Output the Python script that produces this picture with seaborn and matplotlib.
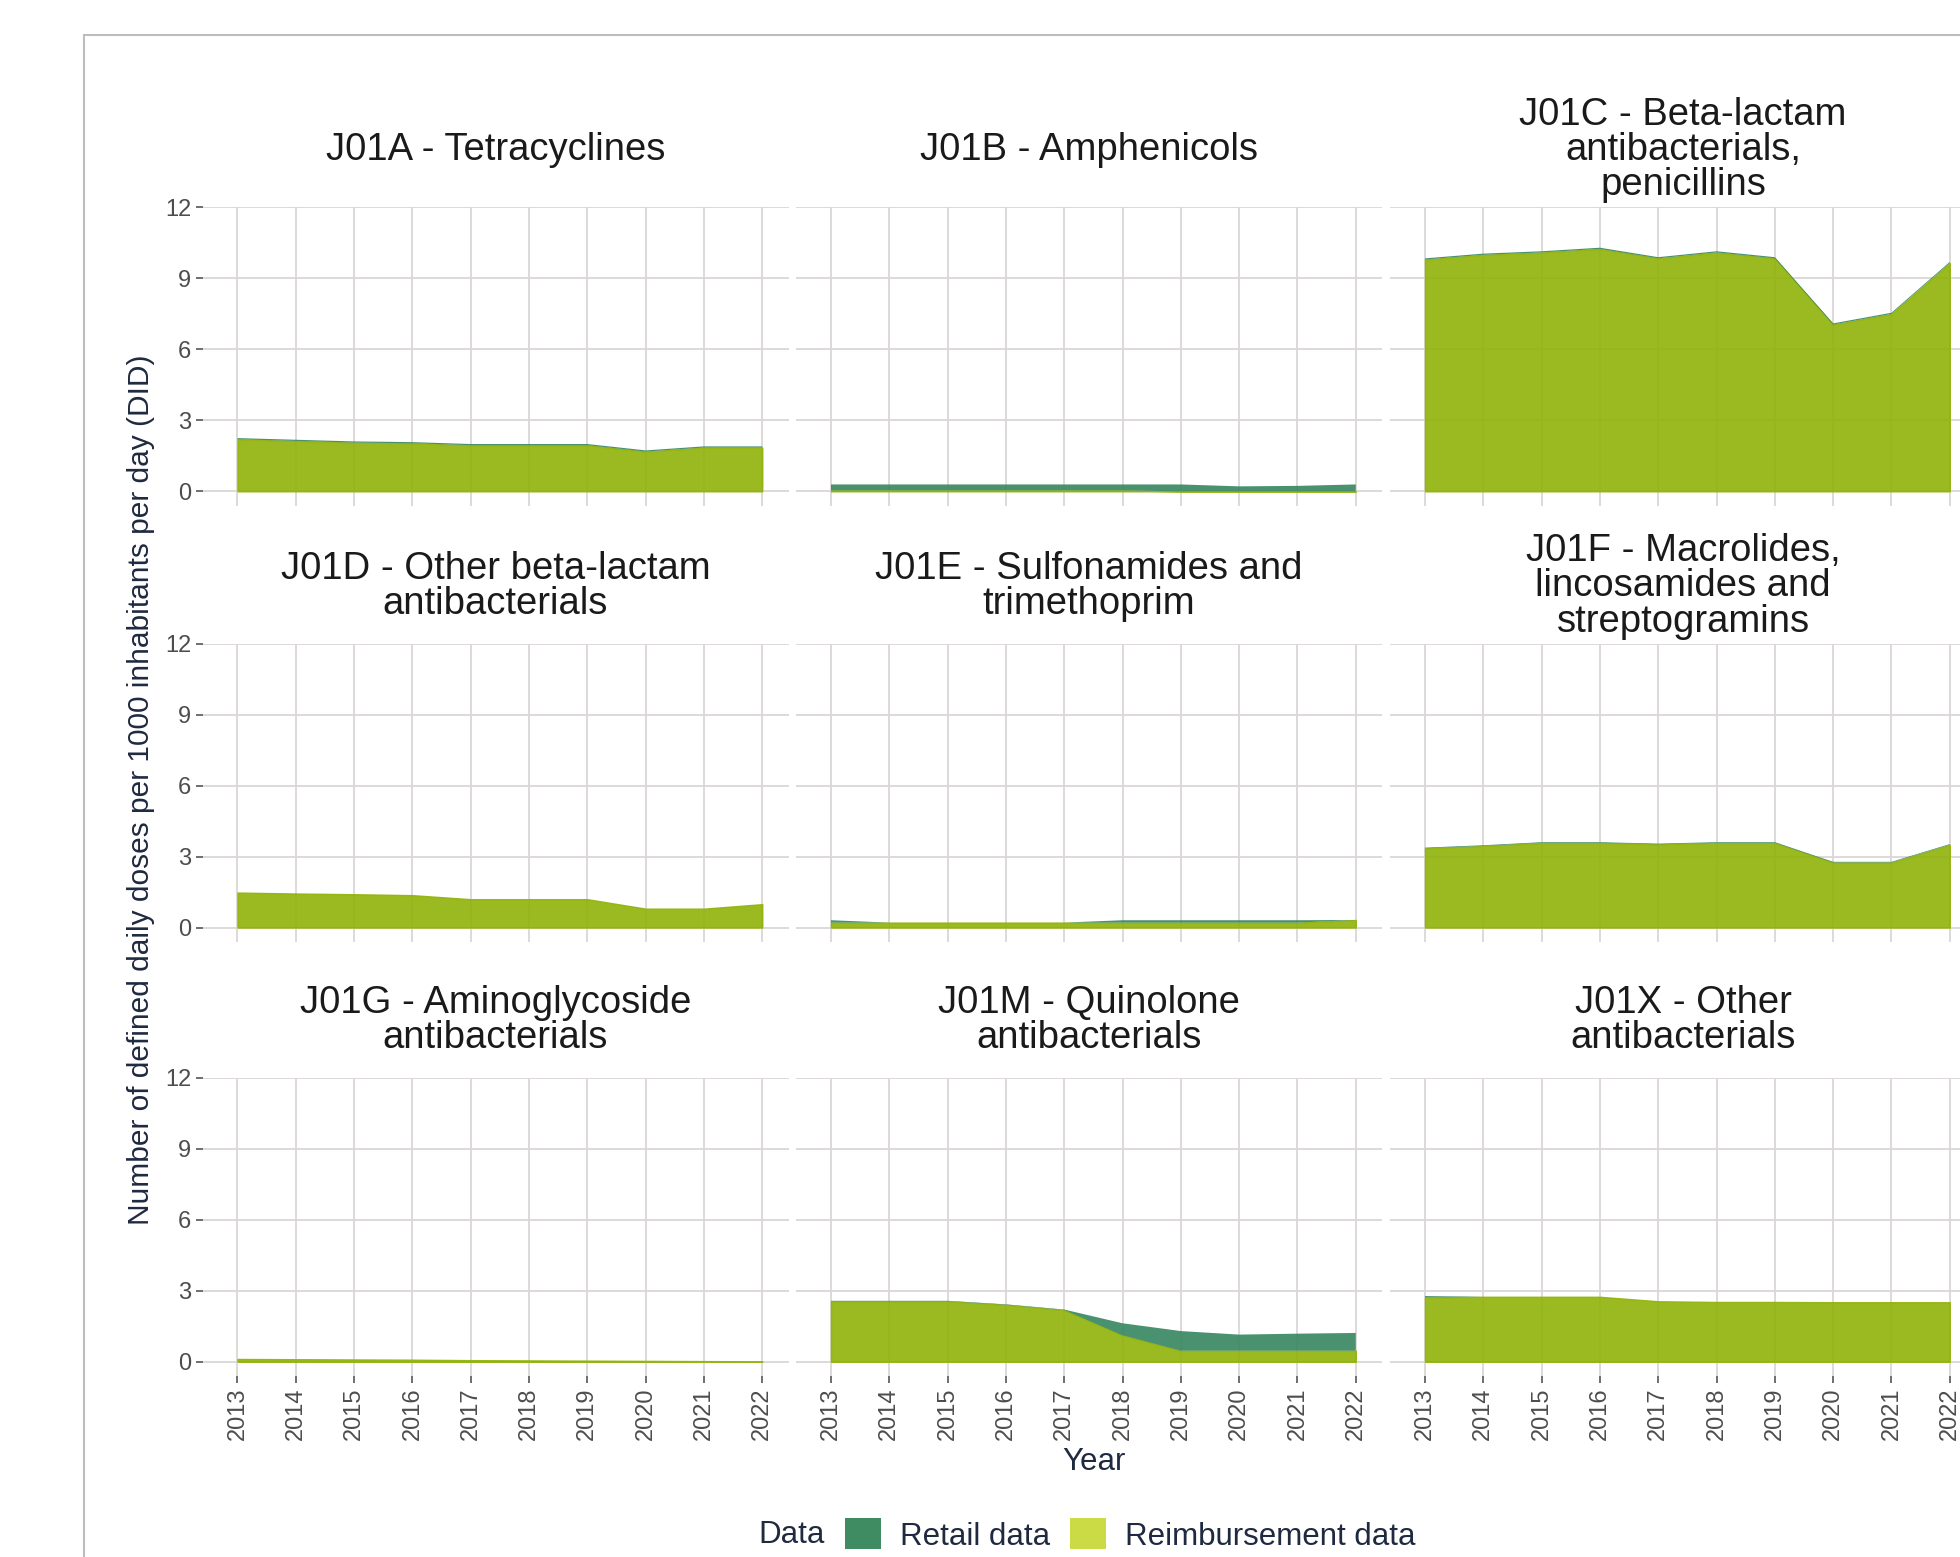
import matplotlib
matplotlib.use("Agg")
import matplotlib.pyplot as plt
from matplotlib.patches import Patch, Rectangle
import seaborn as sns
import pandas as pd

# ---- data (DID) ----
years = list(range(2013, 2023))

groups = [
    "J01A - Tetracyclines",
    "J01B - Amphenicols",
    "J01C - Beta-lactam\nantibacterials,\npenicillins",
    "J01D - Other beta-lactam\nantibacterials",
    "J01E - Sulfonamides and\ntrimethoprim",
    "J01F - Macrolides,\nlincosamides and\nstreptogramins",
    "J01G - Aminoglycoside\nantibacterials",
    "J01M - Quinolone\nantibacterials",
    "J01X - Other\nantibacterials",
]

j01a_reimb = [2.20, 2.13, 2.06, 2.03, 1.95, 1.95, 1.95, 1.68, 1.85, 1.85]
j01a_retail = [0.05, 0.05, 0.05, 0.05, 0.05, 0.05, 0.05, 0.05, 0.05, 0.05]
j01b_reimb = [0.04, 0.04, 0.04, 0.04, 0.04, 0.04, 0.0, 0.0, 0.0, 0.0]
j01b_retail = [0.25, 0.25, 0.25, 0.25, 0.25, 0.25, 0.29, 0.21, 0.23, 0.29]
j01c_reimb = [9.80, 10.00, 10.10, 10.25, 9.85, 10.10, 9.85, 7.05, 7.50, 9.65]
j01c_retail = [0.05, 0.05, 0.05, 0.05, 0.05, 0.05, 0.05, 0.05, 0.05, 0.05]
j01d_reimb = [1.48, 1.44, 1.41, 1.37, 1.20, 1.20, 1.20, 0.80, 0.80, 0.99]
j01d_retail = [0.0, 0.0, 0.0, 0.0, 0.0, 0.0, 0.0, 0.0, 0.0, 0.0]
j01e_reimb = [0.21, 0.21, 0.21, 0.21, 0.21, 0.21, 0.21, 0.21, 0.21, 0.32]
j01e_retail = [0.10, 0.0, 0.0, 0.0, 0.0, 0.10, 0.10, 0.10, 0.10, 0.0]
j01f_reimb = [3.35, 3.45, 3.58, 3.58, 3.52, 3.58, 3.58, 2.75, 2.75, 3.50]
j01f_retail = [0.03, 0.03, 0.03, 0.03, 0.03, 0.03, 0.03, 0.03, 0.03, 0.03]
j01g_reimb = [0.12, 0.11, 0.10, 0.09, 0.07, 0.06, 0.05, 0.04, 0.03, 0.02]
j01g_retail = [0.0, 0.0, 0.0, 0.0, 0.0, 0.0, 0.0, 0.0, 0.0, 0.0]
j01m_reimb = [2.56, 2.56, 2.56, 2.41, 2.19, 1.12, 0.47, 0.47, 0.47, 0.47]
j01m_retail = [0.02, 0.02, 0.02, 0.02, 0.02, 0.51, 0.83, 0.68, 0.72, 0.75]
j01x_reimb = [2.72, 2.75, 2.75, 2.75, 2.56, 2.53, 2.53, 2.52, 2.52, 2.52]
j01x_retail = [0.06, 0.0, 0.0, 0.0, 0.0, 0.0, 0.0, 0.0, 0.0, 0.0]

reimb_series = [j01a_reimb, j01b_reimb, j01c_reimb, j01d_reimb, j01e_reimb,
                j01f_reimb, j01g_reimb, j01m_reimb, j01x_reimb]
retail_series = [j01a_retail, j01b_retail, j01c_retail, j01d_retail, j01e_retail,
                 j01f_retail, j01g_retail, j01m_retail, j01x_retail]

rows = []
for grp, reimb, retail in zip(groups, reimb_series, retail_series):
    for yr, a, b in zip(years, reimb, retail):
        rows.append({"group": grp, "year": yr, "source": "Reimbursement data", "value": a})
        rows.append({"group": grp, "year": yr, "source": "Retail data", "value": b})
df = pd.DataFrame(rows)

# ---- style ----
REIMB_FILL = "#90B309"
RETAIL_FILL = "#36865F"
GRID = "#DCD7D7"
TICK_TXT = "#4D4D4D"
DARK = "#1F2A40"

sns.set_theme(style="white")
plt.rcParams["font.family"] = ["Liberation Sans", "DejaVu Sans"]

W, H = 1960, 1557


def stacked_area(data, color=None, **kws):
    ax = plt.gca()
    wide = data.pivot(index="year", columns="source", values="value").sort_index()
    x = wide.index.values
    base = wide["Reimbursement data"].values
    top = base + wide["Retail data"].values
    ax.fill_between(x, 0, base, facecolor=REIMB_FILL, edgecolor=REIMB_FILL,
                    lw=1.0, alpha=0.9, zorder=2)
    ax.fill_between(x, base, top, facecolor=RETAIL_FILL, edgecolor="none",
                    lw=0, alpha=0.9, zorder=2)


g = sns.FacetGrid(df, col="group", col_order=groups, col_wrap=3,
                  sharex=True, sharey=True, height=4, aspect=1.4)
g.map_dataframe(stacked_area)
g.set_titles("")
g.set_axis_labels("", "")

fig = g.figure
fig.set_size_inches(W / 100, H / 100)

col_left = [202.5, 796.0, 1390.0]
panel_w = 586.0
row_top = [207.5, 643.75, 1078.0]
panel_h = 298.0

for i, ax in enumerate(g.axes.flat):
    r, c = divmod(i, 3)
    ax.set_position([col_left[c] / W, 1 - (row_top[r] + panel_h) / H,
                     panel_w / W, panel_h / H])
    ax.set_xlim(2012.4, 2022.45)
    ax.set_ylim(-0.6, 12)
    ax.set_xticks(years)
    ax.set_yticks([0, 3, 6, 9, 12])
    ax.grid(True, color=GRID, lw=1.3)
    ax.set_axisbelow(True)
    for sp in ax.spines.values():
        sp.set_visible(False)
    # ticks only on the outer panels, like facet_wrap
    ax.tick_params(axis="both", length=5, width=1.2, color="#555555",
                   labelsize=17, labelcolor=TICK_TXT, pad=3,
                   bottom=(r == 2), left=(c == 0))
    for lab in ax.get_xticklabels():
        lab.set_rotation(90)
    ax.annotate(groups[i], xy=(0.5, 1), xycoords="axes fraction",
                xytext=(0, 57.5 * 0.72), textcoords="offset points",
                ha="center", va="center", fontsize=27.5, color="#1A1A1A",
                linespacing=0.98, annotation_clip=False)

fig.text(141 / W, 1 - 790 / H,
         "Number of defined daily doses per 1000 inhabitants per day (DID)",
         rotation=90, ha="center", va="center", fontsize=21.5, color=DARK)
fig.text(1094 / W, 1 - 1462 / H, "Year", ha="center", va="center",
         fontsize=22.5, color=DARK)

# legend at the bottom
fig.text(825 / W, 1 - 1535 / H, "Data", ha="right", va="center",
         fontsize=22.5, color=DARK)
handles = [Patch(facecolor="#3F8C63", edgecolor="none"),
           Patch(facecolor="#CADB45", edgecolor="none")]
fig.legend(handles, ["Retail data", "Reimbursement data"], loc="center left",
           bbox_to_anchor=(845 / W, 1 - 1535 / H), ncol=2, frameon=False,
           fontsize=22.5, labelcolor=DARK, handlelength=1.15, handleheight=1.15,
           handletextpad=0.6, columnspacing=0.65, borderpad=0, borderaxespad=0)

# outer frame of the original figure (cropped on the right and bottom)
fig.add_artist(Rectangle((84 / W, -1), 2, 1 + (1 - 35 / H), transform=fig.transFigure,
                         fill=False, edgecolor="#BDBDBD", lw=1.5))

fig.savefig("out.png", dpi=100)
